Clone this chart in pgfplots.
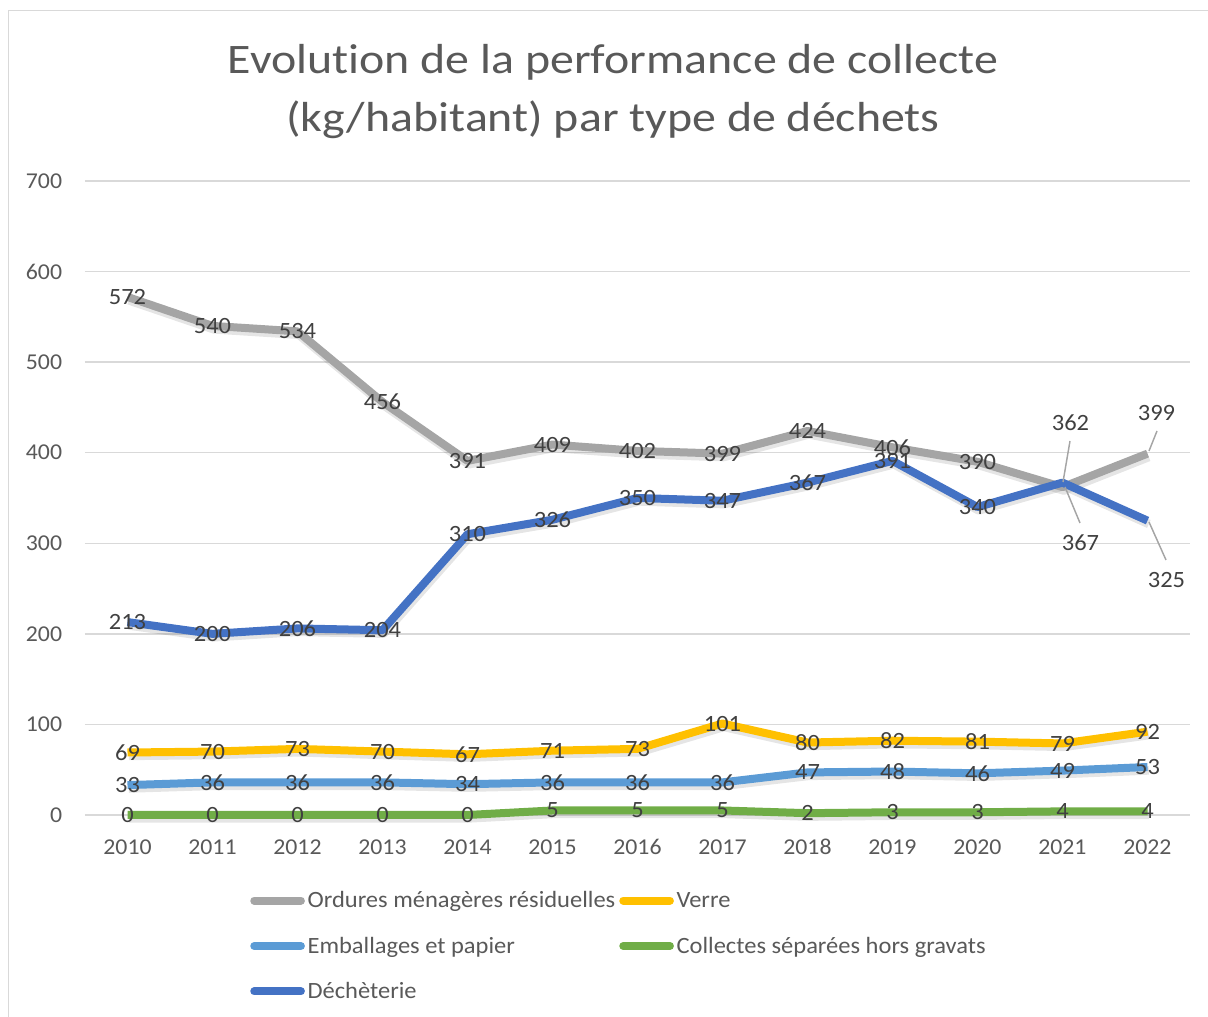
\documentclass[border=0pt]{standalone}
\usepackage{pgfplots}
\pgfplotsset{compat=1.18}
\usepackage{pgfplotstable}
\usepackage{fontspec}
\setmainfont{Carlito}[FakeStretch=1.05, Ligatures=NoCommon]
\newfontfamily\titlefont{Carlito}[FakeStretch=1.14, Ligatures=NoCommon]
\definecolor{cgray}{HTML}{A5A5A5}
\definecolor{cyel}{HTML}{FFC000}
\definecolor{clb}{HTML}{5B9BD5}
\definecolor{cgreen}{HTML}{70AD47}
\definecolor{cblue}{HTML}{4472C4}
\definecolor{ctxt}{HTML}{595959}
\definecolor{clab}{HTML}{404040}
\definecolor{cgrid}{HTML}{D9D9D9}

\pgfplotstableread{
x y dx dy
2010 572 0 0
2011 540 0 0
2012 534 0 0
2013 456 0 0
2014 391 0 0
2015 409 0 0
2016 402 0 0
2017 399 0 0
2018 424 0 0
2019 406 0 0
2020 390 0 0
2021 362 6 48
2022 399 6.75 30.75
}\omr
\pgfplotstableread{
x y dx dy
2010 69 0 0
2011 70 0 0
2012 73 0 0
2013 70 0 0
2014 67 0 0
2015 71 0 0
2016 73 0 0
2017 101 0 0
2018 80 0 0
2019 82 0 0
2020 81 0 0
2021 79 0 0
2022 92 0 0
}\verre
\pgfplotstableread{
x y dx dy
2010 33 0 0
2011 36 0 0
2012 36 0 0
2013 36 0 0
2014 34 0 0
2015 36 0 0
2016 36 0 0
2017 36 0 0
2018 47 0 0
2019 48 0 0
2020 46 0 0
2021 49 0 0
2022 53 0 0
}\emb
\pgfplotstableread{
x y dx dy
2010 0 0 0
2011 0 0 0
2012 0 0 0
2013 0 0 0
2014 0 0 0
2015 5 0 0
2016 5 0 0
2017 5 0 0
2018 2 0 0
2019 3 0 0
2020 3 0 0
2021 4 0 0
2022 4 0 0
}\coll
\pgfplotstableread{
x y dx dy
2010 213 0 0
2011 200 0 0
2012 206 0 0
2013 204 0 0
2014 310 0 0
2015 326 0 0
2016 350 0 0
2017 347 0 0
2018 367 0 0
2019 391 0 0
2020 340 0 0
2021 367 13.5 -45
2022 325 14.25 -44.25
}\dech

\pgfplotsset{shadow/.style={forget plot, draw=black, opacity=0.10, line width=6.5pt, no marks, nodes near coords={}, line join=round, transform canvas={xshift=1pt,yshift=-2.5pt}}}

\begin{document}
\begin{tikzpicture}
\useasboundingbox (0,0) rectangle (906pt,762.75pt);
\draw[cgrid, line width=1.1pt] (6.4pt,0) -- (6.4pt,754.9pt) -- (906pt,754.9pt);
\node[anchor=base, font=\titlefont\fontsize{31.5}{38}\selectfont, text=ctxt] at (459.75pt,707.25pt) {Evolution de la performance de collecte};
\node[anchor=base, font=\titlefont\fontsize{31.5}{38}\selectfont, text=ctxt] at (459.75pt,663.75pt) {(kg/habitant) par type de déchets};
\begin{axis}[
  at={(63.75pt,151.5pt)}, anchor=south west,
  scale only axis, width=828.75pt, height=475.5pt,
  xmin=2009.5, xmax=2022.5, ymin=0, ymax=700,
  xtick={2010,...,2022}, ytick={0,100,...,700},
  xticklabel={\pgfmathprintnumber[1000 sep={}]{\tick}},
  /pgf/number format/assume math mode=true,
  axis line style={draw=none},
  major tick length=0pt,
  ymajorgrids, grid style={cgrid, line width=1.1pt},
  tick label style={font=\fontsize{17}{20}\selectfont, text=ctxt, inner sep=0pt},
  yticklabel style={anchor=east, xshift=-17pt},
  xticklabel style={anchor=base, yshift=-30pt},
  clip=false,
  legend columns=2,
  legend cell align=left,
  legend style={at={(0.1493,-0.116)}, anchor=north west, draw=none, fill=none,
    font=\fontsize{17.5}{20}\selectfont, text=ctxt,
    /tikz/every even column/.append style={column sep=1pt},
    row sep=16.4pt, inner sep=0pt, nodes={inner sep=2pt}},
  legend image code/.code={\draw[line width=6pt, line cap=round, #1] (3pt,0) -- (38pt,0);},
  nodes near coords={\pgfmathprintnumber[fixed,precision=0]{\pgfplotspointmeta}},
  every node near coord/.append style={font=\fontsize{17.5}{20}\selectfont, text=clab, anchor=center, xshift=\dx pt, yshift=\dy pt},
  visualization depends on={\thisrow{dx} \as \dx},
  visualization depends on={\thisrow{dy} \as \dy},
]
% shadows
\addplot[shadow] table[x=x,y=y] {\omr};
\addplot[shadow] table[x=x,y=y] {\verre};
\addplot[shadow] table[x=x,y=y] {\emb};
\addplot[shadow] table[x=x,y=y] {\coll};
\addplot[shadow] table[x=x,y=y] {\dech};
\addplot[cgray, line width=6pt, no marks, nodes near coords={}, line join=round] table[x=x,y=y] {\omr};
\addlegendentry{Ordures ménagères résiduelles}
\addplot[cyel, line width=6pt, no marks, nodes near coords={}, line join=round] table[x=x,y=y] {\verre};
\addlegendentry{Verre}
\addplot[clb, line width=6pt, no marks, nodes near coords={}, line join=round] table[x=x,y=y] {\emb};
\addlegendentry{Emballages et papier}
\addplot[cgreen, line width=6pt, no marks, nodes near coords={}, line join=round] table[x=x,y=y] {\coll};
\addlegendentry{Collectes séparées hors gravats}
\addplot[cblue, line width=6pt, no marks, nodes near coords={}, line join=round] table[x=x,y=y] {\dech};
\addlegendentry{Déchèterie}
% labels
\addplot[forget plot, draw=none, no marks] table[x=x,y=y] {\omr};
\addplot[forget plot, draw=none, no marks] table[x=x,y=y] {\verre};
\addplot[forget plot, draw=none, no marks] table[x=x,y=y] {\emb};
\addplot[forget plot, draw=none, no marks] table[x=x,y=y] {\coll};
\addplot[forget plot, draw=none, no marks] table[x=x,y=y] {\dech};
\end{axis}
\draw[cgray, line width=1.1pt] (802.5pt,432pt) -- (797.25pt,401.25pt);
\draw[cgray, line width=1.1pt] (867.75pt,439.5pt) -- (861.75pt,424.5pt);
\draw[cgray, line width=1.1pt] (798.75pt,397.5pt) -- (810pt,370.5pt);
\draw[cgray, line width=1.1pt] (861.75pt,371.25pt) -- (874.5pt,342.75pt);
\end{tikzpicture}
\end{document}
